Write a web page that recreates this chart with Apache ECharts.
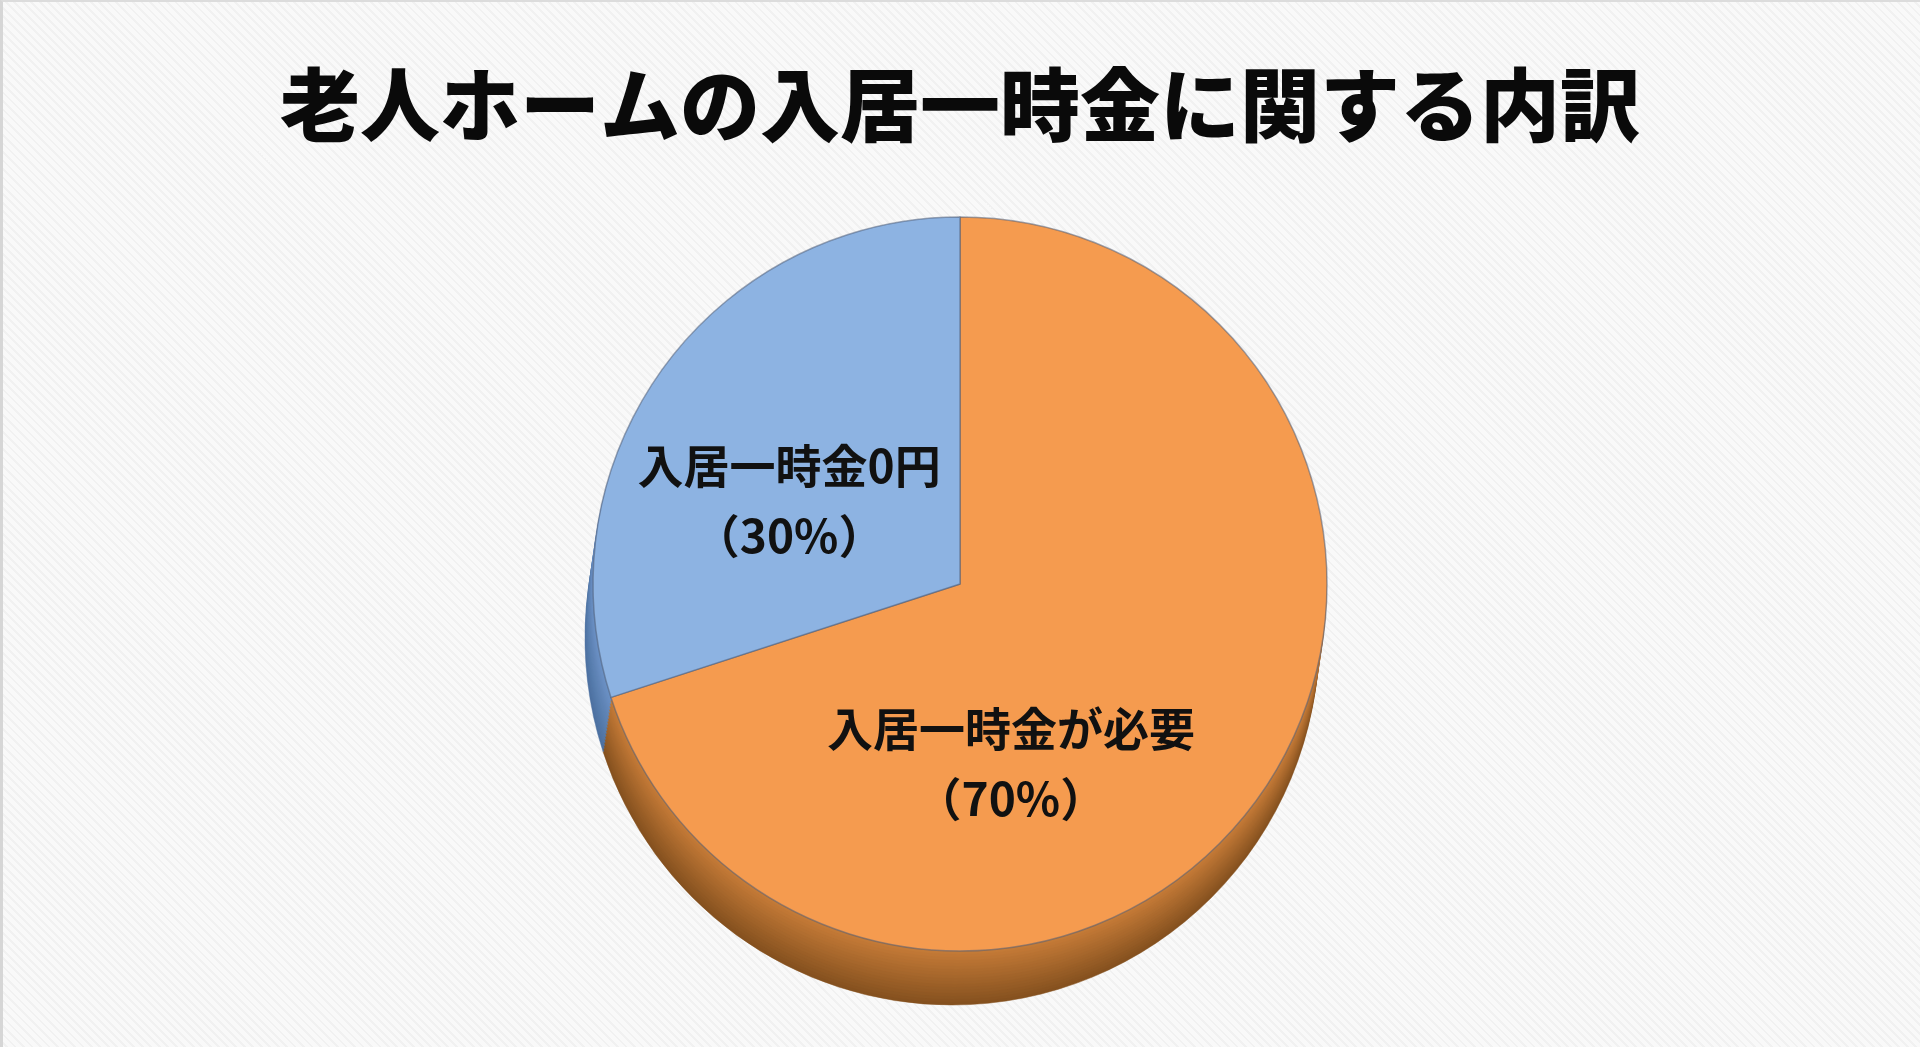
<!DOCTYPE html>
<html>
<head>
<meta charset="utf-8">
<script src="https://cdn.jsdelivr.net/npm/echarts@6/dist/echarts.min.js"></script>
<style>
html,body{margin:0;padding:0;width:1920px;height:1047px;overflow:hidden;}
body{background:#f8f8f8 repeating-linear-gradient(45deg,#f9f9f9 0px,#f9f9f9 4px,#f1f1f1 4px,#f1f1f1 6px);}
#frame{position:absolute;left:0;top:0;width:1920px;height:1047px;box-sizing:border-box;border-left:3px solid #d6d6d6;border-top:2px solid #dcdcdc;pointer-events:none;}
#chart{position:absolute;left:0;top:0;width:1920px;height:1047px;}
</style>
</head>
<body>
<div id="chart"></div>
<div id="frame"></div>
<script>
// ---- data ----
var titleText = '老人ホームの入居一時金に関する内訳';
var categories = ['入居一時金が必要', '入居一時金0円'];
var values = [70, 30];

// ---- styles ----
var topColors = ['#F59B4F', '#8DB3E2'];
var sideTop = ['#c77c38', '#6d93c6'];
var sideBottom = ['#85511f', '#4c70a0'];
var labelShift = [[-100, 70], [-20, 26]];

function mix(a, b, t) {
  var pa = [parseInt(a.substr(1,2),16), parseInt(a.substr(3,2),16), parseInt(a.substr(5,2),16)];
  var pb = [parseInt(b.substr(1,2),16), parseInt(b.substr(3,2),16), parseInt(b.substr(5,2),16)];
  return 'rgb(' + pa.map(function(v,i){return Math.round(v + (pb[i]-v)*t);}).join(',') + ')';
}

var cx = 960, cy = 584, R = 367, depth = 54, shiftX = -8, layers = 18;
var series = [];
for (var k = layers; k >= 1; k--) {
  var t = k / layers;
  series.push({
    type: 'pie',
    silent: true,
    animation: false,
    startAngle: 90,
    clockwise: true,
    center: [cx + shiftX * t, cy + depth * t],
    radius: [0, R],
    label: {show: false},
    labelLine: {show: false},
    data: categories.map(function(c, i) {
      var col = mix(sideTop[i], sideBottom[i], t);
      return {name: c, value: values[i], itemStyle: {color: col, borderColor: col, borderWidth: 0.5}};
    })
  });
}
series.push({
  type: 'pie',
  silent: true,
  animation: false,
  startAngle: 90,
  clockwise: true,
  center: [cx, cy],
  radius: [0, R],
  itemStyle: {borderColor: 'rgba(80,95,120,0.55)', borderWidth: 1.5},
  label: {
    show: true,
    position: 'inside',
    formatter: '{b}\n（{c}%）',
    fontFamily: 'Noto Sans CJK JP',
    fontWeight: 'bold',
    fontSize: 46,
    lineHeight: 70,
    color: '#111111',
    align: 'center'
  },
  labelLine: {show: false},
  labelLayout: function(p) {
    var s = labelShift[p.dataIndex];
    return {dx: s[0], dy: s[1]};
  },
  data: categories.map(function(c, i) {
    return {name: c, value: values[i], itemStyle: {color: topColors[i]}};
  })
});

var chart = echarts.init(document.getElementById('chart'), null, {renderer: 'canvas'});
chart.setOption({
  backgroundColor: 'transparent',
  animation: false,
  title: {
    text: titleText,
    left: 'center',
    top: 60,
    textStyle: {
      fontFamily: 'Noto Sans CJK JP',
      fontWeight: 900,
      fontSize: 80,
      color: '#0a0a0a'
    }
  },
  series: series
});
</script>
</body>
</html>
